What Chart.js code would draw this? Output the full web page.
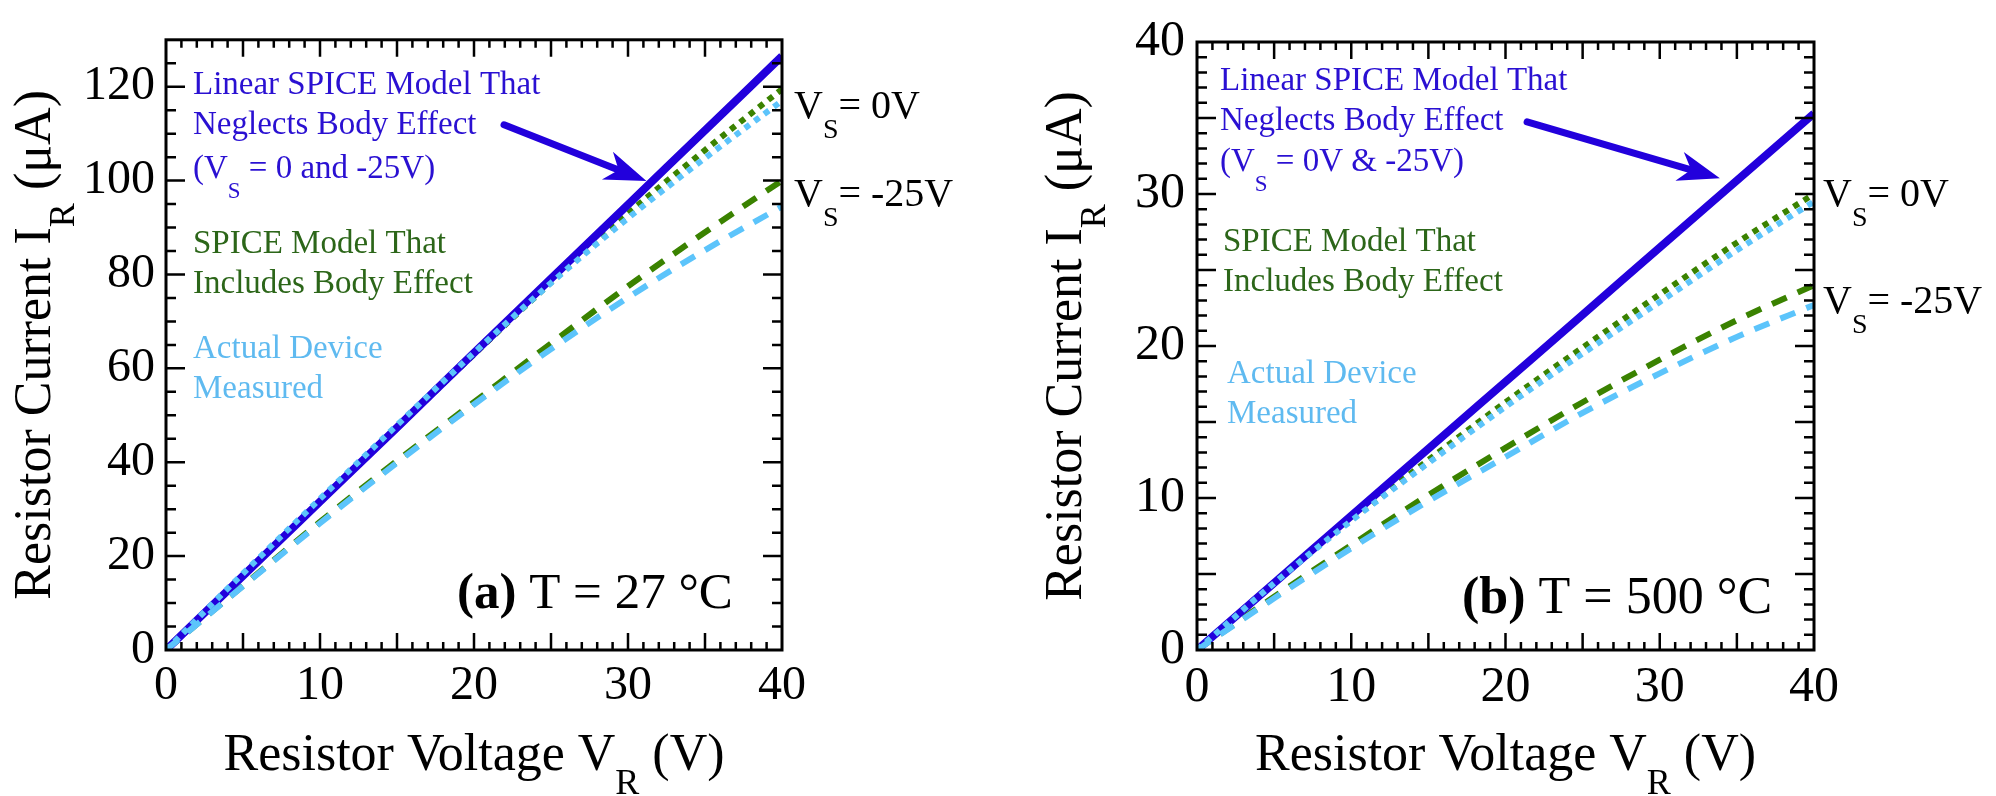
<!DOCTYPE html>
<html>
<head>
<meta charset="utf-8">
<script src="https://cdn.jsdelivr.net/npm/chart.js@4.4.1/dist/chart.umd.min.js"></script>
<style>
  html, body { margin: 0; padding: 0; background: #fff; }
  #wrap { position: relative; width: 1996px; height: 796px; }
  canvas { position: absolute; top: 0; }
  #chartA { left: 0; }
  #chartB { left: 998px; }
</style>
</head>
<body>
<div id="wrap">
  <canvas id="chartA" width="998" height="796"></canvas>
  <canvas id="chartB" width="998" height="796"></canvas>
</div>
<script>
// resistor voltage V_R (V)
const vr = [0, 5, 10, 15, 20, 25, 30, 35, 40];

// (a) T = 27 C, resistor current (uA)
const linearA   = [0, 15.8, 31.6, 47.4, 63.3, 79.1, 94.9, 110.7, 126.5];
const bodyA0    = [0, 15.8, 31.6, 47.3, 63.0, 78.3, 93.0, 106.5, 119.5];
const measA0    = [0, 16.3, 32.2, 47.9, 63.3, 78.2, 92.0, 104.8, 117.0];
const bodyA25   = [0, 13.7, 27.3, 40.3, 52.8, 65.3, 77.5, 89.0, 100.0];
const measA25   = [0, 13.6, 27.0, 39.9, 52.3, 64.1, 75.1, 85.2, 94.5];

// (b) T = 500 C, resistor current (uA)
const linearB   = [0, 4.41, 8.83, 13.24, 17.65, 22.06, 26.48, 30.89, 35.3];
const bodyB0    = [0, 4.4, 8.6, 12.5, 16.3, 19.9, 23.4, 26.8, 30.0];
const measB0    = [0, 4.4, 8.5, 12.3, 16.0, 19.5, 22.9, 26.3, 29.5];
const bodyB25   = [0, 3.5, 6.9, 10.2, 13.3, 16.3, 19.1, 21.7, 24.0];
const measB25   = [0, 3.4, 6.7, 9.8, 12.7, 15.6, 18.2, 20.6, 22.7];

// tick labels
const xTicks  = [0, 10, 20, 30, 40];
const yTicksA = [0, 20, 40, 60, 80, 100, 120];
const yTicksB = [0, 10, 20, 30, 40];

const SERIF = "'Liberation Serif', 'Times New Roman', serif";
const BLUE = '#2200dc', GREEN = '#3a8200', LBLUE = '#5cc4fb';
const BLUE_T = '#2a10d2', GREEN_T = '#2c6619', LBLUE_T = '#5fbaf0';

function series(ys, color, dash, width, order) {
  return {
    data: vr.map((x, i) => ({ x: x, y: ys[i] })),
    borderColor: color,
    borderWidth: width,
    borderDash: dash,
    borderCapStyle: 'butt',
    pointRadius: 0,
    fill: false,
    cubicInterpolationMode: 'monotone',
    order: order
  };
}

// draw a run of text pieces, some bold, some subscript
function fontFor(p, size) {
  const kind = p[1] || '';
  const s = kind === 'sub' ? Math.round(size * 0.7) : size;
  return (kind === 'b' ? 'bold ' : '') + s + 'px ' + SERIF;
}
function richWidth(ctx, parts, size) {
  let w = 0;
  parts.forEach(p => {
    ctx.font = fontFor(p, size);
    w += ctx.measureText(p[0]).width;
  });
  return w;
}
function drawRich(ctx, parts, x, y, size, color, subShift) {
  ctx.fillStyle = color;
  ctx.textBaseline = 'alphabetic';
  ctx.textAlign = 'left';
  parts.forEach(p => {
    ctx.font = fontFor(p, size);
    const dy = p[1] === 'sub' ? size * subShift : 0;
    ctx.fillText(p[0], x, y + dy);
    x += ctx.measureText(p[0]).width;
  });
}

function drawArrow(ctx, x0, y0, x1, y1, color) {
  const dx = x1 - x0, dy = y1 - y0, L = Math.hypot(dx, dy);
  const ux = dx / L, uy = dy / L, nx = -uy, ny = ux;
  const hl = 42, hw = 15, notch = 30;
  ctx.strokeStyle = color;
  ctx.lineWidth = 7;
  ctx.lineCap = 'round';
  ctx.beginPath();
  ctx.moveTo(x0, y0);
  ctx.lineTo(x1 - ux * notch, y1 - uy * notch);
  ctx.stroke();
  ctx.fillStyle = color;
  ctx.beginPath();
  ctx.moveTo(x1, y1);
  ctx.lineTo(x1 - ux * hl + nx * hw, y1 - uy * hl + ny * hw);
  ctx.lineTo(x1 - ux * notch, y1 - uy * notch);
  ctx.lineTo(x1 - ux * hl - nx * hw, y1 - uy * hl - ny * hw);
  ctx.closePath();
  ctx.fill();
}

const decor = {
  id: 'decor',
  afterDraw(chart, args, cfg) {
    const ctx = chart.ctx, a = chart.chartArea;
    const xs = chart.scales.x, ys = chart.scales.y;
    ctx.save();

    // frame with inward ticks on all four sides
    ctx.strokeStyle = '#000';
    ctx.lineWidth = 3;
    ctx.lineCap = 'butt';
    ctx.strokeRect(a.left, a.top, a.right - a.left, a.bottom - a.top);
    ctx.lineWidth = 2.5;
    ctx.beginPath();
    for (let v = 1; v < 40; v++) {
      const px = xs.getPixelForValue(v);
      const len = v % 5 === 0 ? 17 : 8;
      ctx.moveTo(px, a.bottom); ctx.lineTo(px, a.bottom - len);
      ctx.moveTo(px, a.top); ctx.lineTo(px, a.top + len);
    }
    for (let v = cfg.yMinor; v < cfg.yMax; v += cfg.yMinor) {
      const py = ys.getPixelForValue(v);
      const len = v % cfg.yMajor === 0 ? 19 : 10;
      ctx.moveTo(a.left, py); ctx.lineTo(a.left + len, py);
      ctx.moveTo(a.right, py); ctx.lineTo(a.right - len, py);
    }
    ctx.stroke();

    // annotation text
    cfg.notes.forEach(n => {
      drawRich(ctx, n.parts, a.left + n.dx, a.top + n.dy, n.size, n.color, n.shift);
    });

    // arrow to the linear model line
    drawArrow(ctx,
      xs.getPixelForValue(cfg.arrow[0]), ys.getPixelForValue(cfg.arrow[1]),
      xs.getPixelForValue(cfg.arrow[2]), ys.getPixelForValue(cfg.arrow[3]), BLUE);

    // axis titles
    const tSize = 52;
    const xt = [['Resistor Voltage V'], ['R', 'sub'], [' (V)']];
    const wx = richWidth(ctx, xt, tSize);
    drawRich(ctx, xt, (a.left + a.right) / 2 - wx / 2, a.bottom + 120, tSize, '#000', 0.47);

    const yt = [['Resistor Current I'], ['R', 'sub'], [' (\u03bcA)']];
    const wy = richWidth(ctx, yt, tSize);
    ctx.translate(a.left - 116, (a.top + a.bottom) / 2);
    ctx.rotate(-Math.PI / 2);
    drawRich(ctx, yt, -wy / 2, 0, tSize, '#000', 0.47);
    ctx.restore();
  }
};

function makeChart(id, c) {
  return new Chart(document.getElementById(id), {
    type: 'line',
    data: {
      datasets: [
        series(c.meas0, LBLUE, [6, 6], 6, 1),
        series(c.meas25, LBLUE, [16, 12], 6, 1),
        series(c.linear, BLUE, [], 8, 2),
        series(c.body0, GREEN, [6, 6], 6, 3),
        series(c.body25, GREEN, [16, 12], 6, 3)
      ]
    },
    options: {
      responsive: false,
      animation: false,
      devicePixelRatio: 1,
      layout: { padding: { left: 0, top: 34, right: c.padRight, bottom: 0 } },
      plugins: {
        legend: { display: false },
        tooltip: { enabled: false },
        decor: c.decor
      },
      scales: {
        x: {
          type: 'linear', min: 0, max: 40,
          grid: { display: false, drawTicks: false },
          border: { display: false },
          afterBuildTicks: s => { s.ticks = xTicks.map(v => ({ value: v })); },
          afterFit: s => { s.height = 146; },
          ticks: { font: { family: SERIF, size: c.tickSize }, color: '#000', padding: 8, maxRotation: 0, autoSkip: false }
        },
        y: {
          type: 'linear', min: 0, max: c.decor.yMax,
          grid: { display: false, drawTicks: false },
          border: { display: false },
          afterBuildTicks: s => { s.ticks = c.yTicks.map(v => ({ value: v })); },
          afterFit: s => { s.width = c.yWidth; },
          ticks: { font: { family: SERIF, size: c.tickSize }, color: '#000', padding: c.yPad, autoSkip: false }
        }
      }
    },
    plugins: [decor]
  });
}

const vsLabel = (txt) => [['V'], ['S', 'sub'], [txt]];

makeChart('chartA', {
  linear: linearA, body0: bodyA0, meas0: measA0, body25: bodyA25, meas25: measA25,
  yTicks: yTicksA, yWidth: 166, padRight: 216, tickSize: 48, yPad: 11,
  decor: {
    yMax: 130, yMinor: 5, yMajor: 20,
    arrow: [21.95, 111.9, 31.2, 99.9],
    notes: [
      { dx: 27, dy: 54, size: 33, color: BLUE_T, parts: [['Linear SPICE Model That']] },
      { dx: 27, dy: 94, size: 33, color: BLUE_T, parts: [['Neglects Body Effect']] },
      { dx: 27, dy: 138, size: 33, color: BLUE_T, shift: 0.6, parts: [['(V'], ['S', 'sub'], [' = 0 and -25V)']] },
      { dx: 27, dy: 213, size: 33, color: GREEN_T, parts: [['SPICE Model That']] },
      { dx: 27, dy: 253, size: 33, color: GREEN_T, parts: [['Includes Body Effect']] },
      { dx: 27, dy: 318, size: 33, color: LBLUE_T, parts: [['Actual Device']] },
      { dx: 27, dy: 358, size: 33, color: LBLUE_T, parts: [['Measured']] },
      { dx: 628, dy: 78, size: 40, color: '#000', shift: 0.5, parts: vsLabel('= 0V') },
      { dx: 628, dy: 166, size: 40, color: '#000', shift: 0.5, parts: vsLabel('= -25V') },
      { dx: 291, dy: 568, size: 51, color: '#000', parts: [['(a)', 'b'], [' T = 27 \u00b0C']] }
    ]
  }
});

makeChart('chartB', {
  linear: linearB, body0: bodyB0, meas0: measB0, body25: bodyB25, meas25: measB25,
  yTicks: yTicksB, yWidth: 199, padRight: 182, tickSize: 50, yPad: 12,
  decor: {
    yMax: 40, yMinor: 1, yMajor: 5,
    arrow: [21.4, 34.74, 33.9, 31.04],
    notes: [
      { dx: 23, dy: 48, size: 33, color: BLUE_T, parts: [['Linear SPICE Model That']] },
      { dx: 23, dy: 88, size: 33, color: BLUE_T, parts: [['Neglects Body Effect']] },
      { dx: 23, dy: 129, size: 33, color: BLUE_T, shift: 0.6, parts: [['(V'], ['S', 'sub'], [' = 0V & -25V)']] },
      { dx: 26, dy: 209, size: 33, color: GREEN_T, parts: [['SPICE Model That']] },
      { dx: 26, dy: 249, size: 33, color: GREEN_T, parts: [['Includes Body Effect']] },
      { dx: 30, dy: 341, size: 33, color: LBLUE_T, parts: [['Actual Device']] },
      { dx: 30, dy: 381, size: 33, color: LBLUE_T, parts: [['Measured']] },
      { dx: 626, dy: 164, size: 40, color: '#000', shift: 0.5, parts: vsLabel('= 0V') },
      { dx: 626, dy: 271, size: 40, color: '#000', shift: 0.5, parts: vsLabel('= -25V') },
      { dx: 265, dy: 571, size: 52, color: '#000', parts: [['(b)', 'b'], [' T = 500 \u00b0C']] }
    ]
  }
});
</script>
</body>
</html>
